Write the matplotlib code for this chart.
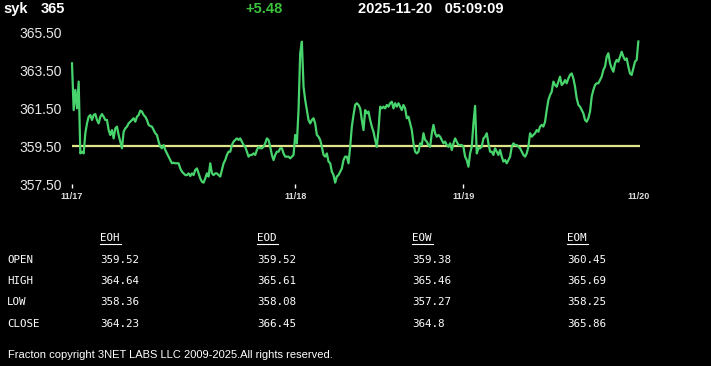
import numpy as np
import matplotlib
matplotlib.use("Agg")
import matplotlib.pyplot as plt
from matplotlib.lines import Line2D

# ---- data -------------------------------------------------------------------
symbol = "syk"
last_price = "365"
change = "+5.48"
stamp = "2025-11-20   05:09:09"
open_price = 359.52

prices = [
    363.85, 361.39, 362.45, 361.48, 362.89, 359.11, 359.20, 359.11, 360.17, 360.69,
    361.04, 361.13, 360.87, 361.13, 361.18, 360.87, 360.69, 361.04, 361.18, 361.04,
    360.87, 360.87, 360.34, 360.08, 360.34, 359.90, 360.43, 360.52, 360.08, 359.73,
    359.38, 360.25, 360.43, 360.52, 360.69, 360.78, 360.87, 360.96, 360.78, 361.04,
    361.13, 361.36, 361.31, 361.13, 361.04, 360.87, 360.61, 360.55, 360.52, 360.34,
    360.17, 360.08, 359.73, 359.46, 359.38, 359.55, 359.29, 359.11, 358.94, 358.76,
    358.59, 358.62, 358.59, 358.59, 358.59, 358.32, 358.15, 358.06, 357.97, 357.97,
    358.06, 357.92, 358.06, 357.97, 358.24, 358.32, 358.06, 357.80, 357.62, 357.57,
    357.80, 358.06, 357.89, 358.59, 358.06, 357.97, 358.06, 358.06, 357.97, 357.89,
    358.24, 358.59, 358.76, 359.03, 359.20, 359.20, 359.55, 359.73, 359.82, 359.90,
    359.82, 359.90, 359.73, 359.55, 359.46, 359.20, 358.94, 359.03, 359.03, 359.11,
    359.03, 359.29, 359.46, 359.38, 359.38, 359.46, 359.64, 359.90, 359.82, 359.46,
    359.03, 358.76, 359.03, 359.20, 359.20, 359.38, 359.38, 359.11, 358.94, 358.94,
    358.94, 358.85, 358.94, 359.03, 360.08, 359.64, 361.39, 364.38, 364.99, 362.62,
    361.92, 361.39, 360.87, 360.69, 360.87, 360.96, 360.69, 360.08, 359.99, 359.82,
    359.46, 359.03, 358.94, 359.11, 358.68, 358.59, 358.15, 357.97, 357.57, 357.89,
    357.97, 358.15, 358.32, 358.76, 358.94, 358.94, 358.59, 359.46, 360.52, 361.13,
    361.66, 361.75, 361.66, 361.48,
    360.87, 360.34, 361.39, 361.22, 361.31, 360.87, 360.52, 360.25, 359.82, 359.46,
    360.34, 361.57, 361.48, 361.57, 361.48, 361.66, 361.57, 361.75, 361.83, 361.48,
    361.75, 361.57, 361.75, 361.57, 361.39, 361.66, 361.48, 360.96, 361.04, 360.69,
    360.34, 359.64, 359.20, 359.11, 359.20, 359.64, 359.55, 360.17, 359.82, 359.73,
    359.55, 359.46, 360.17, 360.61, 360.17, 359.99, 360.08, 359.99, 359.82, 359.64,
    359.73, 359.55, 359.46, 359.64, 359.29, 359.64, 359.90, 359.73, 359.55, 359.55,
    359.55, 359.46, 358.94, 358.76, 358.41, 359.11, 359.46, 360.69, 361.61, 359.11,
    359.38, 359.38, 359.46, 359.90, 359.99, 360.17, 359.64, 359.20, 359.20, 359.03,
    359.38, 359.20, 359.03, 359.29, 358.94, 358.68, 358.76, 358.59, 358.76, 358.94,
    359.46, 359.64, 359.55, 359.55, 359.46, 359.38, 359.20, 359.03, 358.94, 359.11,
    359.46, 360.17, 359.99, 360.08, 360.17, 360.34, 360.25, 360.52, 360.61, 360.52,
    360.78, 361.39, 361.92, 362.18, 362.36, 362.89, 362.71, 362.62, 362.89, 363.15,
    362.71, 362.80, 362.97, 362.80, 363.06, 363.24, 363.32, 363.06, 362.62, 362.01,
    361.66, 361.57, 361.39, 361.22, 360.87, 360.78, 360.96, 361.31, 362.10, 362.45,
    362.71, 362.80, 362.80, 362.97, 363.15, 363.50, 363.68, 364.20, 364.38, 363.85,
    363.59, 363.41, 363.85, 364.03, 363.94, 364.20, 364.46, 364.20, 364.03, 364.11,
    363.68, 363.32, 363.24, 363.59, 363.94, 364.03, 365.00,
]

date_pos = [0, 134, 235, 340]
date_labels = ["11/17", "11/18", "11/19", "11/20"]
y_ticks = [357.5, 359.5, 361.5, 363.5, 365.5]

periods = ["EOH", "EOD", "EOW", "EOM"]
rows = ["OPEN", "HIGH", "LOW", "CLOSE"]
table = {
    "EOH": ["359.52", "364.64", "358.36", "364.23"],
    "EOD": ["359.52", "365.61", "358.08", "366.45"],
    "EOW": ["359.38", "365.46", "357.27", "364.8"],
    "EOM": ["360.45", "365.69", "358.25", "365.86"],
}

GREEN = "#48d46c"
YELLOW = "#e2e48c"
W, H = 711, 366

# ---- figure -------------------------------------------------------------------
fig = plt.figure(figsize=(W / 100, H / 100), dpi=100, facecolor="black")
ax = fig.add_axes([72 / W, (H - 184) / H, 568 / W, 152 / H], facecolor="black")

x = np.arange(len(prices))
ax.plot([0, len(prices)], [open_price, open_price], color=YELLOW, lw=1.6, zorder=2)
ax.plot(x, prices, color=GREEN, lw=1.6, zorder=3, clip_on=False)

ax.set_xlim(0, len(prices))
ax.set_ylim(357.5, 365.5)
for s in ax.spines.values():
    s.set_visible(False)

ax.set_yticks(y_ticks)
ax.set_yticklabels([f"{v:.2f}" for v in y_ticks], fontsize=10,
                   family="Liberation Sans", color="#e8e8e8")
ax.tick_params(axis="y", length=0, pad=7.5)
ax.set_xticks(date_pos)
ax.set_xticklabels(date_labels, fontsize=6.5, family="Liberation Sans",
                   color="#dddddd", fontweight="bold")
ax.tick_params(axis="x", length=3, width=1, color="white", pad=3)
ax.xaxis.get_major_ticks()[-1].tick1line.set_visible(False)

# ---- header -------------------------------------------------------------------
hdr = dict(family="Liberation Sans", fontweight="bold", fontsize=10.5, va="center")
fig.text(3 / W, 1 - 9 / H, symbol, color="white", **hdr)
fig.text(41 / W, 1 - 9 / H, last_price, color="white", **hdr)
fig.text(245 / W, 1 - 9 / H, change, color="#3cc23c", **hdr)
fig.text(358 / W, 1 - 9 / H, stamp, color="white", **hdr)

# ---- OHLC table ---------------------------------------------------------------
mono = dict(family="DejaVu Sans Mono", fontsize=7.8, color="white", va="center")
col_x = [100, 257, 412, 567]
row_y = [260, 281, 302, 324]
for cx, p in zip(col_x, periods):
    fig.text(cx / W, 1 - 238 / H, p, **mono)
    fig.add_artist(Line2D([cx / W, (cx + 21) / W], [1 - 244 / H, 1 - 244 / H],
                          color="white", lw=0.8))
    for ry, val in zip(row_y, table[p]):
        fig.text(cx / W, 1 - ry / H, val, **mono)
for ry, r in zip(row_y, rows):
    fig.text(7 / W, 1 - ry / H, r, **mono)

fig.text(8 / W, 1 - 355 / H,
         "Fracton copyright 3NET LABS LLC 2009-2025.All rights reserved.",
         family="Liberation Sans", fontsize=8.0, color="white", va="center")

fig.savefig("out.png", dpi=100, facecolor="black")
